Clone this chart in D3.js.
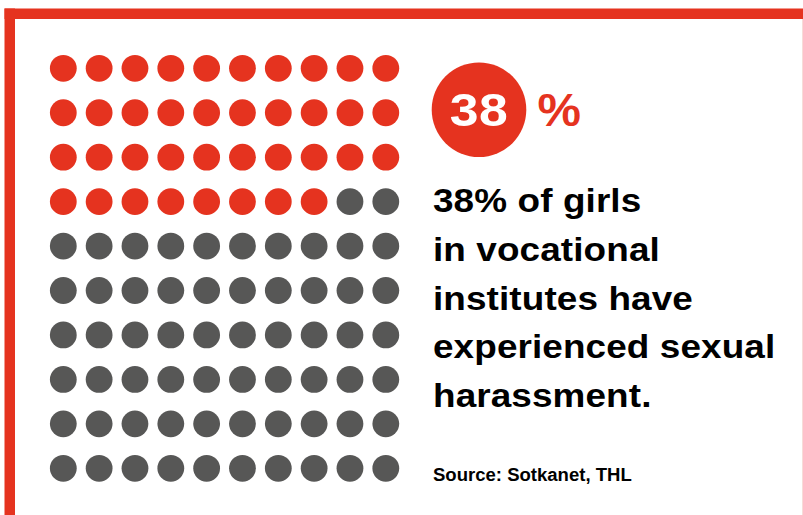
<!DOCTYPE html>
<html>
<head>
<meta charset="utf-8">
<script src="https://cdn.jsdelivr.net/npm/d3@7"></script>
<style>
  html, body { margin: 0; padding: 0; background: #fff; }
  svg { display: block; }
</style>
</head>
<body>
<div id="chart"></div>
<script>
// data
var share = 38;          // percent
var total = 100;         // dots in the grid
var gridCols = d3.range(10);
var gridRows = d3.range(10);
var headline = ["38% of girls", "in vocational", "institutes have", "experienced sexual", "harassment."];
var source = "Source: Sotkanet, THL";

var width = 803, height = 515;
var red = "#e5331f", grey = "#575756";
var font = "'Liberation Sans', Arial, sans-serif";

var svg = d3.select("#chart").append("svg")
    .attr("width", width)
    .attr("height", height);

// frame: top and left bands
svg.append("rect").attr("x", 4.5).attr("y", 8.5).attr("width", width - 4.5).attr("height", 10.5).attr("fill", red);
svg.append("rect").attr("x", 4.5).attr("y", 8.5).attr("width", 10.5).attr("height", height - 8.5).attr("fill", red);
svg.append("line").attr("x1", 802.5).attr("x2", 802.5).attr("y1", 19).attr("y2", height)
    .attr("stroke", "#f7dcd8").attr("stroke-width", 1);

// dot grid
var x = d3.scalePoint().domain(gridCols).range([63.3, 385.8]);
var y = d3.scalePoint().domain(gridRows).range([68.3, 468.3]);

var dots = d3.range(total).map(function(i) {
    return { i: i, col: i % 10, row: Math.floor(i / 10) };
});

svg.append("g").selectAll("circle")
    .data(dots)
    .enter().append("circle")
    .attr("cx", d => x(d.col))
    .attr("cy", d => y(d.row))
    .attr("r", 13.4)
    .attr("fill", d => d.i < share ? red : grey);

// badge
var badge = svg.append("g").attr("transform", "translate(479,109.7)");
badge.append("circle").attr("r", 47.3).attr("fill", red);
badge.append("text")
    .attr("transform", "translate(0,15.8) scale(1.1,1)")
    .attr("text-anchor", "middle")
    .style("font", "bold 47px " + font)
    .style("letter-spacing", "0.5px")
    .attr("fill", "#fff")
    .text(share);

svg.append("text")
    .attr("transform", "translate(537.5,126) scale(1.04,1)")
    .style("font", "bold 47px " + font)
    .attr("fill", red)
    .text("%");

// headline text (glyphs widened to match the original grotesque)
svg.append("g").selectAll("text")
    .data(headline)
    .enter().append("text")
    .attr("transform", (d, i) => "translate(433," + (212.3 + i * 48.7) + ") scale(1.085,1)")
    .style("font", "bold 34px " + font)
    .style("letter-spacing", "0.1px")
    .attr("fill", "#000")
    .text(d => d);

svg.append("text")
    .attr("transform", "translate(433,480.7) scale(1.03,1)")
    .style("font", "bold 18px " + font)
    .attr("fill", "#000")
    .text(source);
</script>
</body>
</html>
